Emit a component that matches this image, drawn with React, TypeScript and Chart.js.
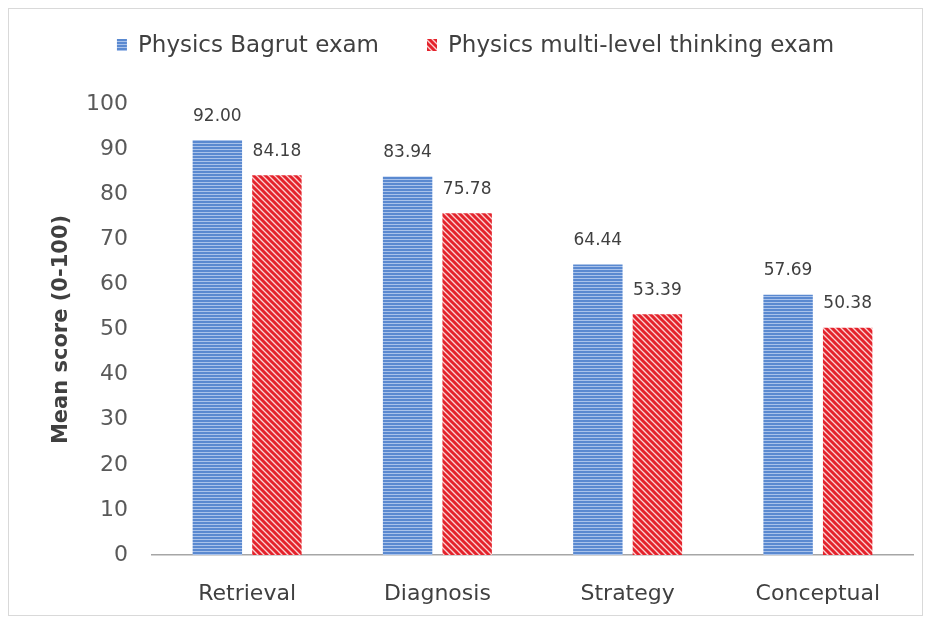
import React, { useEffect, useRef } from "react";
import { Chart, registerables } from "chart.js";

Chart.register(...registerables);

const categories = ["Retrieval", "Diagnosis", "Strategy", "Conceptual"];
const bagrut = [92.0, 83.94, 64.44, 57.69];
const multiLevel = [84.18, 75.78, 53.39, 50.38];
const seriesNames = ["Physics Bagrut exam", "Physics multi-level thinking exam"];
const yTicks = [0, 10, 20, 30, 40, 50, 60, 70, 80, 90, 100];

const FONT = "'DejaVu Sans', sans-serif";

function bluePattern(ctx: CanvasRenderingContext2D) {
  const c = document.createElement("canvas");
  c.width = 4;
  c.height = 3;
  const g = c.getContext("2d")!;
  g.fillStyle = "#5a89d0";
  g.fillRect(0, 0, 4, 3);
  g.fillStyle = "#a9c2ea";
  g.fillRect(0, 2, 4, 1);
  return ctx.createPattern(c, "repeat")!;
}

function redPattern(ctx: CanvasRenderingContext2D) {
  const s = 6;
  const c = document.createElement("canvas");
  c.width = s;
  c.height = s;
  const g = c.getContext("2d")!;
  g.fillStyle = "#fbd3d3";
  g.fillRect(0, 0, s, s);
  g.strokeStyle = "#e4232c";
  g.lineWidth = 3;
  g.beginPath();
  for (let k = -1; k <= 1; k++) {
    g.moveTo(k * s - 1, -1);
    g.lineTo(k * s + s + 1, s + 1);
  }
  g.stroke();
  return ctx.createPattern(c, "repeat")!;
}

const valueLabels = {
  id: "valueLabels",
  afterDatasetsDraw(chart: any) {
    const ctx = chart.ctx;
    ctx.save();
    ctx.font = `17px ${FONT}`;
    ctx.fillStyle = "#404040";
    ctx.textAlign = "center";
    ctx.textBaseline = "middle";
    chart.data.datasets.forEach((ds: any, i: number) => {
      const meta = chart.getDatasetMeta(i);
      meta.data.forEach((bar: any, j: number) => {
        ctx.fillText(Number(ds.data[j]).toFixed(2), bar.x, bar.y - 24);
      });
    });
    ctx.restore();
  },
};

const customLegend = {
  id: "customLegend",
  afterDraw(chart: any) {
    const ctx = chart.ctx;
    ctx.save();
    ctx.font = `23px ${FONT}`;
    ctx.textBaseline = "middle";
    ctx.textAlign = "left";
    const boxW = 10;
    const boxH = 12;
    const gapText = 11;
    const gapItems = 48;
    const items = chart.data.datasets.map((ds: any) => ({
      label: ds.label,
      fill: ds.backgroundColor,
      w: boxW + gapText + ctx.measureText(ds.label).width,
    }));
    const total = items.reduce((s: number, it: any) => s + it.w, 0) + gapItems * (items.length - 1);
    let x = chart.width / 2 + 10 - total / 2;
    const y = 36;
    items.forEach((it: any) => {
      ctx.fillStyle = it.fill;
      ctx.fillRect(x, y - boxH / 2, boxW, boxH);
      ctx.fillStyle = "#404040";
      ctx.fillText(it.label, x + boxW + gapText, y + 1);
      x += it.w + gapItems;
    });
    ctx.restore();
  },
};

export default function App() {
  const ref = useRef<HTMLCanvasElement>(null);
  useEffect(() => {
    const canvas = ref.current!;
    const ctx = canvas.getContext("2d")!;
    const chart = new Chart(canvas, {
      type: "bar",
      data: {
        labels: categories,
        datasets: [
          {
            label: seriesNames[0],
            data: bagrut,
            backgroundColor: bluePattern(ctx),
            borderWidth: 0,
            barPercentage: 0.83,
            categoryPercentage: 0.626,
          },
          {
            label: seriesNames[1],
            data: multiLevel,
            backgroundColor: redPattern(ctx),
            borderWidth: 0,
            barPercentage: 0.83,
            categoryPercentage: 0.626,
          },
        ],
      },
      options: {
        animation: false,
        responsive: true,
        maintainAspectRatio: false,
        layout: { padding: { left: 40, right: 9, top: 95, bottom: 8 } },
        plugins: {
          legend: { display: false },
          tooltip: { enabled: false },
          title: { display: false },
        },
        scales: {
          x: {
            grid: { display: false, drawTicks: false },
            border: { display: true, color: "#a6a6a6", width: 1.5 },
            ticks: { color: "#404040", font: { family: FONT, size: 22 }, padding: 26, maxRotation: 0 },
            afterFit: (axis: any) => {
              axis.height = 52;
            },
          },
          y: {
            min: 0,
            max: 100,
            afterBuildTicks: (axis: any) => {
              axis.ticks = yTicks.map((v) => ({ value: v }));
            },
            afterFit: (axis: any) => {
              axis.width = 103;
            },
            grid: { display: false, drawTicks: false },
            border: { display: false },
            ticks: { color: "#595959", font: { family: FONT, size: 22 }, padding: 24 },
            title: {
              display: true,
              text: "Mean score (0-100)",
              color: "#404040",
              font: { family: FONT, size: 21, weight: "bold" },
              padding: { top: 0, bottom: 0 },
            },
          },
        },
      },
      plugins: [valueLabels, customLegend],
    });
    return () => chart.destroy();
  }, []);
  return (
    <div
      style={{
        width: 913,
        height: 606,
        border: "1px solid #d9d9d9",
        background: "#fff",
        position: "relative",
      }}
    >
      <canvas ref={ref} />
    </div>
  );
}
